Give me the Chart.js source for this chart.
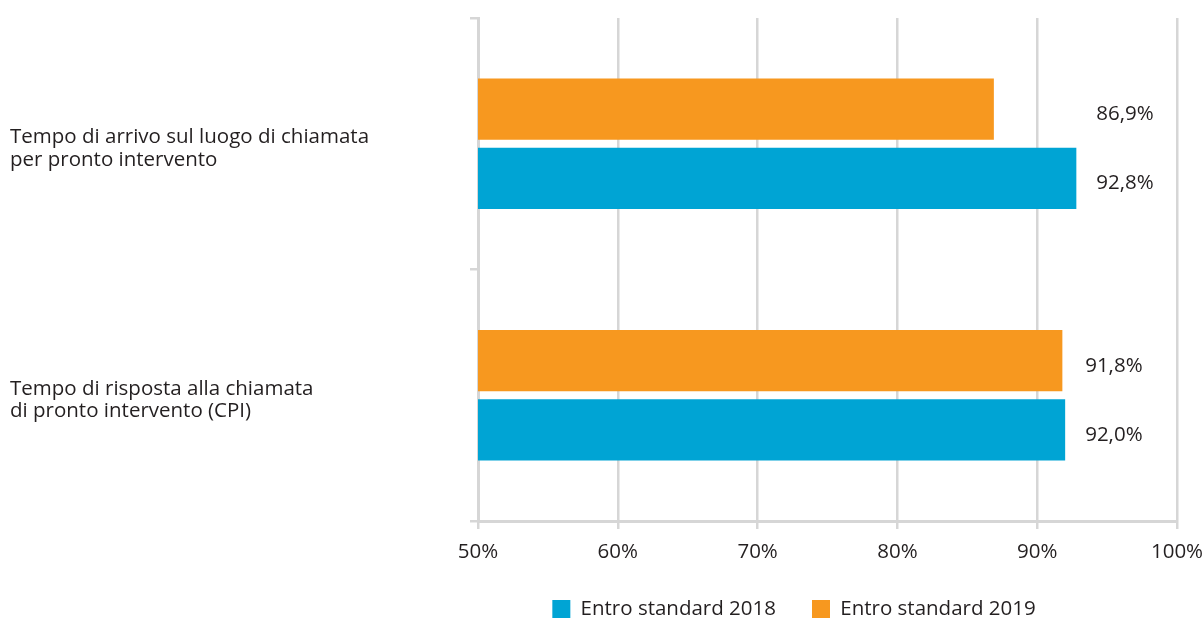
<!DOCTYPE html>
<html>
<head>
<meta charset="utf-8">
<script src="https://cdn.jsdelivr.net/npm/chart.js@4"></script>
<style>
  html, body { margin: 0; padding: 0; background: #fff; }
  #wrap { width: 1204px; height: 619px; position: relative; }
</style>
</head>
<body>
<div id="wrap"><canvas id="chart"></canvas></div>
<script>
// categorie (asse y) e valori in %
const categories = [
  ['Tempo di arrivo sul luogo di chiamata', 'per pronto intervento'],
  ['Tempo di risposta alla chiamata', 'di pronto intervento (CPI)']
];
const values2019 = [86.9, 91.8];
const values2018 = [92.8, 92.0];
const xTicks = [50, 60, 70, 80, 90, 100];

const FONT = '"Open Sans", sans-serif';
const FS = 20.5;
const TXT = '#231f20';
const GRID = '#d6d6d6';
const fmt = v => v.toFixed(1).replace('.', ',') + '%';

// etichette valori: allineate per categoria a destra della barra più lunga
const valueLabels = {
  id: 'valueLabels',
  afterDatasetsDraw(chart) {
    const ctx = chart.ctx;
    const metas = chart.data.datasets.map((d, i) => chart.getDatasetMeta(i));
    ctx.save();
    ctx.font = FS + 'px ' + FONT;
    ctx.fillStyle = TXT;
    ctx.textAlign = 'left';
    ctx.textBaseline = 'middle';
    categories.forEach((c, i) => {
      const maxX = Math.max(...metas.map(m => m.data[i].x));
      metas.forEach((m, di) => {
        const bar = m.data[i];
        ctx.fillText(fmt(chart.data.datasets[di].data[i]), maxX + 20, bar.y + 5);
      });
    });
    ctx.restore();
  }
};

// legenda spostata come nel grafico originale
const legendShift = {
  id: 'legendShift',
  afterLayout(chart) {
    const lg = chart.legend;
    const dy = 609 - (lg.top + 36 + FS / 2);
    lg.top += dy; lg.bottom += dy;
    lg.left = 394; lg.right = 1194;
  }
};

new Chart(document.getElementById('chart'), {
  type: 'bar',
  data: {
    labels: categories,
    datasets: [
      {
        label: 'Entro standard 2019',
        data: values2019,
        backgroundColor: '#F7981F',
        borderWidth: 0,
        categoryPercentage: 0.55,
        barPercentage: 0.885
      },
      {
        label: 'Entro standard 2018',
        data: values2018,
        backgroundColor: '#00A4D4',
        borderWidth: 0,
        categoryPercentage: 0.55,
        barPercentage: 0.885
      }
    ]
  },
  options: {
    indexAxis: 'y',
    responsive: true,
    maintainAspectRatio: false,
    animation: false,
    // fondo negativo: la legenda viene poi riposizionata da legendShift
    layout: { padding: { top: 18, right: 27, left: 10, bottom: 98 - (50 + FS + 36 + 10) } },
    plugins: {
      legend: {
        position: 'bottom',
        reverse: true,
        labels: {
          boxWidth: 18, boxHeight: 18, padding: 36,
          color: TXT, font: { family: FONT, size: FS }
        }
      },
      tooltip: { enabled: false }
    },
    scales: {
      x: {
        min: 50, max: 100,
        afterBuildTicks: s => { s.ticks = xTicks.map(v => ({ value: v })); },
        afterFit: s => {
          s.height = 50;
          s.paddingLeft = 0; s.paddingRight = 0;
        },
        ticks: {
          padding: 11,
          color: TXT,
          font: { family: FONT, size: FS },
          callback: v => v + '%'
        },
        grid: { color: GRID, lineWidth: 2.5, tickLength: 8 },
        border: { color: GRID, width: 3 }
      },
      y: {
        afterFit: s => {
          s.width = 468;
          s.paddingTop = 0; s.paddingBottom = 0;
        },
        ticks: {
          crossAlign: 'far',
          labelOffset: 5,
          color: TXT,
          font: { family: FONT, size: FS, lineHeight: 1.1 }
        },
        grid: { drawOnChartArea: false, color: GRID, lineWidth: 2.5, tickLength: 8 },
        border: { color: GRID, width: 3 }
      }
    }
  },
  plugins: [valueLabels, legendShift]
});
</script>
</body>
</html>
